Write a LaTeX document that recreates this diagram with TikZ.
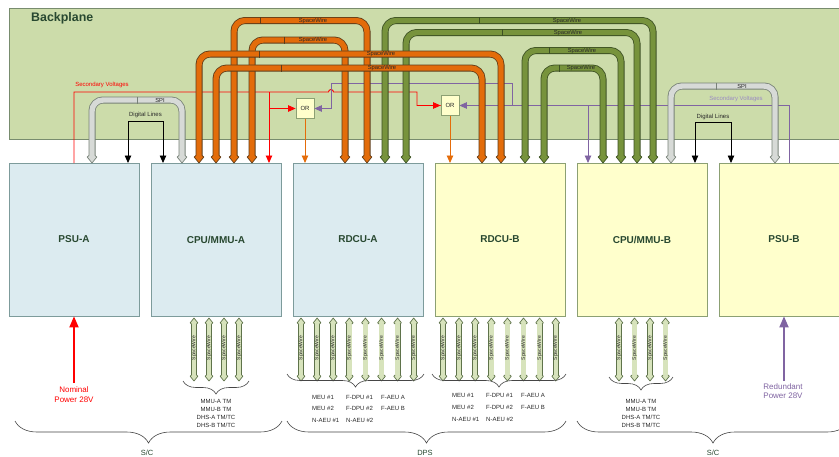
\documentclass[tikz,border=0pt]{standalone}
\usepackage{fontspec}
\setmainfont{Liberation Sans}
\usetikzlibrary{arrows.meta,decorations.pathreplacing}
\definecolor{bpfill}{RGB}{204,220,170}
\definecolor{bpline}{RGB}{120,140,110}
\definecolor{bluefill}{RGB}{220,235,240}
\definecolor{blueline}{RGB}{125,155,155}
\definecolor{yelfill}{RGB}{255,255,204}
\definecolor{yelline}{RGB}{140,160,115}
\definecolor{orfill}{RGB}{227,108,10}
\definecolor{ordark}{RGB}{95,60,25}
\definecolor{grfill}{RGB}{119,147,60}
\definecolor{grdark}{RGB}{60,80,35}
\definecolor{gyfill}{RGB}{215,218,215}
\definecolor{gydark}{RGB}{120,130,120}
\definecolor{khfill}{RGB}{215,227,188}
\definecolor{khdark}{RGB}{95,115,75}
\definecolor{labgreen}{RGB}{40,72,48}
\definecolor{redc}{RGB}{255,0,0}
\definecolor{purc}{RGB}{128,100,162}
\definecolor{purtext}{RGB}{155,140,195}
\definecolor{orline}{RGB}{228,108,10}
\definecolor{txtdark}{RGB}{40,40,40}
\definecolor{bracec}{RGB}{70,70,70}
\newcommand\phead[6]{%
 \begin{scope}[shift={(#1,#2)},scale=#6,yscale=#3]
  \fill[#4] (-3.3,-7.5) -- (-4.8,-6) -- (0,0) -- (4.8,-6) -- (3.3,-7.5) -- cycle;
  \draw[#5,line width=0.7pt,line join=round] (-3.1,-7.5) -- (-4.8,-6) -- (0,0) -- (4.8,-6) -- (3.1,-7.5);
 \end{scope}}
\tikzset{mytri/.tip={Triangle[length=7.5pt,width=6.5pt]}, bigtri/.tip={Triangle[length=11pt,width=9pt]}}
\begin{document}
\begin{tikzpicture}[x=1pt,y=-1pt,
  bluebox/.style={draw=blueline,fill=bluefill,line width=0.7pt,minimum width=130pt,minimum height=153pt,inner sep=0pt,font=\fontsize{10}{12}\selectfont\bfseries,text=labgreen},
  yelbox/.style={bluebox,draw=yelline,fill=yelfill},
  orpipe/.style={draw=ordark,line width=0.8pt,double=orfill,double distance=5.4pt,rounded corners=11pt},
  grpipe/.style={orpipe,draw=grdark,double=grfill},
  gypipe/.style={orpipe,draw=gydark,double=gyfill},
  khpipe/.style={draw=khdark,line width=0.7pt,double=khfill,double distance=4.4pt},
  pw/.style={font=\fontsize{5.8}{6}\selectfont,text=txtdark,inner sep=0pt},
  small/.style={font=\fontsize{6}{8}\selectfont,text=txtdark,inner sep=0pt},
  redline/.style={draw=redc,line width=0.9pt},
  purline/.style={draw=purc,line width=0.9pt},
  orthin/.style={draw=orline,line width=0.9pt},
  blkline/.style={draw=black,line width=0.8pt},
  orbox/.style={draw=yelline,fill=yelfill,line width=0.8pt,minimum width=18pt,minimum height=20pt,inner sep=0pt,font=\fontsize{6}{6}\selectfont,text=txtdark},
  brc/.style={draw=bracec,line width=0.6pt,decorate,decoration={brace,mirror,amplitude=#1}},
  grp/.style={font=\fontsize{7.5}{8}\selectfont,text=labgreen,inner sep=0pt}]
\useasboundingbox (0,0) rectangle (839,456);
\fill[white] (0,0) rectangle (839,456);
% backplane
\draw[draw=bpline,fill=bpfill,line width=0.8pt] (9,8) rectangle (848,139);
\node[anchor=west,font=\fontsize{12.4}{14}\selectfont\bfseries,text=labgreen,inner sep=0pt] (bplabel) at (31,18.5) {Backplane};
% boxes
\node[bluebox] (psua) at (74,239.5) {PSU-A};
\node[bluebox] (cpua) at (216,239.5) {CPU/MMU-A};
\node[bluebox] (rdcua) at (358,239.5) {RDCU-A};
\node[yelbox] (rdcub) at (500,239.5) {RDCU-B};
\node[yelbox] (cpub) at (642,239.5) {CPU/MMU-B};
\node[yelbox] (psub) at (784,239.5) {PSU-B};
% OR gates
\node[orbox] (or1) at (305,108.5) {OR};
\node[orbox] (or2) at (450,105.5) {OR};
% red secondary voltages
\draw[redline] (74,163) -- (74,92) -- (328.5,92) arc[start angle=180,end angle=360,radius=2.5] -- (417,92) -- (417,105.5) -- (or2.west);
\draw[redline,-{mytri}] (417,105.5) -- (or2.west);
\draw[redline,-{mytri}] (269,92) -- (269,163);
\draw[redline,-{mytri}] (269,108.5) -- (or1.west);
\node[font=\fontsize{6}{6}\selectfont,text=redc,inner sep=0pt] (svred) at (102,85) {Secondary Voltages};
% purple secondary voltages
\draw[purline,-{mytri}] (789,163) -- (789,105.5) -- (or2.east);
\draw[purline,-{mytri}] (512,105.5) -- (512,83) -- (331,83) -- (331,108.5) -- (or1.east);
\draw[purline,-{mytri}] (588,105.5) -- (588,163);
\node[font=\fontsize{6}{6}\selectfont,text=purtext,inner sep=0pt] (svpur) at (736,99) {Secondary Voltages};
% OR outputs
\draw[orthin,-{mytri}] (or1.south) -- (305,163);
\draw[orthin,-{mytri}] (or2.south) -- (450,163);
% digital lines
\draw[blkline,{mytri}-{mytri}] (128,163) -- (128,121) -- (163,121) -- (163,163);
\node[small] (dla) at (145.5,115) {Digital Lines};
\draw[blkline,{mytri}-{mytri}] (695,163) -- (695,122) -- (731,122) -- (731,163);
\node[small] (dlb) at (713,117) {Digital Lines};
% SPI pipes
\draw[gypipe] (92,156) -- (92,100) -- (182,100) -- (182,156);
\draw[gypipe] (671,156) -- (671,86) -- (775,86) -- (775,156);
\draw[gydark,line width=0.6pt] (137,96.5) -- (137,103.5);
\draw[gydark,line width=0.6pt] (716,82.5) -- (716,89.5);
\node[pw] (spia) at (160,100) {SPI};
\node[pw] (spib) at (742,86) {SPI};
\foreach \x in {92,182,671,775} {\phead{\x}{163}{1}{gyfill}{gydark}{1}}
% outer arches
\draw[orpipe] (234,156) -- (234,20.5) -- (367,20.5) -- (367,156);
\draw[orpipe] (252,156) -- (252,40) -- (345,40) -- (345,156);
\draw[grpipe] (385,156) -- (385,20.5) -- (653,20.5) -- (653,156);
\draw[grpipe] (406,156) -- (406,32.5) -- (637,32.5) -- (637,156);
% inner arches
\draw[orpipe] (199,156) -- (199,54) -- (501,54) -- (501,156);
\draw[orpipe] (216,156) -- (216,68) -- (482,68) -- (482,156);
\draw[grpipe] (525,156) -- (525,50.5) -- (621,50.5) -- (621,156);
\draw[grpipe] (544,156) -- (544,68) -- (603,68) -- (603,156);
% ticks
\foreach \x/\y in {260/20.5,284/40,259/54,281/68} {\draw[ordark,line width=0.6pt] (\x,\y-3.5) -- (\x,\y+3.5);}
\foreach \x/\y in {479/20.5,502/32.5,549/50.5,559/68} {\draw[grdark,line width=0.6pt] (\x,\y-3.5) -- (\x,\y+3.5);}
% heads
\foreach \x in {199,216,234,252,345,367,482,501} {\phead{\x}{163}{1}{orfill}{ordark}{1}}
\foreach \x in {385,406,525,544,603,621,637,653} {\phead{\x}{163}{1}{grfill}{grdark}{1}}
% labels on arches
\node[pw] (sw1) at (313,20.5) {SpaceWire};
\node[pw] (sw2) at (313,40) {SpaceWire};
\node[pw] (sw3) at (381,54) {SpaceWire};
\node[pw] (sw4) at (382,68) {SpaceWire};
\node[pw] (sw5) at (567,20.5) {SpaceWire};
\node[pw] (sw6) at (568,32.5) {SpaceWire};
\node[pw] (sw7) at (582,50.5) {SpaceWire};
\node[pw] (sw8) at (581,68) {SpaceWire};
% bottom bidirectional pipes
\foreach \x in {194,209,224,239,619,634.5,650,665.5,301,317.1,333.2,349.3,365.4,381.5,397.6,413.7,443,459.1,475.2,491.3,507.4,523.5,539.6,555.7} {
  \draw[khpipe] (\x,324) -- (\x,375);
  \phead{\x}{318}{-1}{khfill}{khdark}{0.8}
  \phead{\x}{381}{1}{khfill}{khdark}{0.8}
  \node[font=\fontsize{5}{5}\selectfont,text=txtdark,inner sep=0pt,rotate=90] at (\x,348) {SpaceWire};
}
% braces
\draw[brc=13pt] (183,381) -- (249,381);
\draw[brc=13pt] (287,374) -- (424,374);
\draw[brc=13pt] (432,374) -- (566,374);
\draw[brc=13pt] (609,377) -- (673,377);
\draw[brc=22pt] (15,421) -- (282,421);
\draw[brc=22pt] (287,421) -- (566,421);
\draw[brc=22pt] (577,421) -- (849,421);
% bottom labels
\node[small,align=center] (ifa) at (216,413) {MMU-A TM\\MMU-B TM\\DHS-A TM/TC\\DHS-B TM/TC};
\node[small,align=center] (ifb) at (641,413) {MMU-A TM\\MMU-B TM\\DHS-A TM/TC\\DHS-B TM/TC};
\foreach \lx/\ly/\t in {312/397/MEU \#1, 312/408.5/MEU \#2, 312/420.5/N-AEU \#1, 346/397/F-DPU \#1, 346/408.5/F-DPU \#2, 346/420.5/N-AEU \#2, 381/397/F-AEU A, 381/408.5/F-AEU B,
  452/395/MEU \#1, 452/407/MEU \#2, 452/419/N-AEU \#1, 486/395/F-DPU \#1, 486/407/F-DPU \#2, 486/419/N-AEU \#2, 521/395/F-AEU A, 521/407/F-AEU B}
  {\node[small,anchor=west] at (\lx,\ly) {\t};}
\node[grp] (sca) at (147,452.5) {S/C};
\node[grp] (dps) at (425,452.5) {DPS};
\node[grp] (scb) at (713,452.5) {S/C};
% external power
\draw[draw=redc,line width=1.8pt,-{bigtri}] (74,383) -- (psua.south);
\node[font=\fontsize{8}{9.5}\selectfont,text=redc,align=center,inner sep=0pt] (nom) at (74,394.5) {Nominal\\Power 28V};
\draw[draw=purc,line width=1.8pt,-{bigtri}] (784,381) -- (psub.south);
\node[font=\fontsize{8}{9.5}\selectfont,text=purc,align=center,inner sep=0pt] (red) at (783,391) {Redundant\\Power 28V};
\end{tikzpicture}
\end{document}
